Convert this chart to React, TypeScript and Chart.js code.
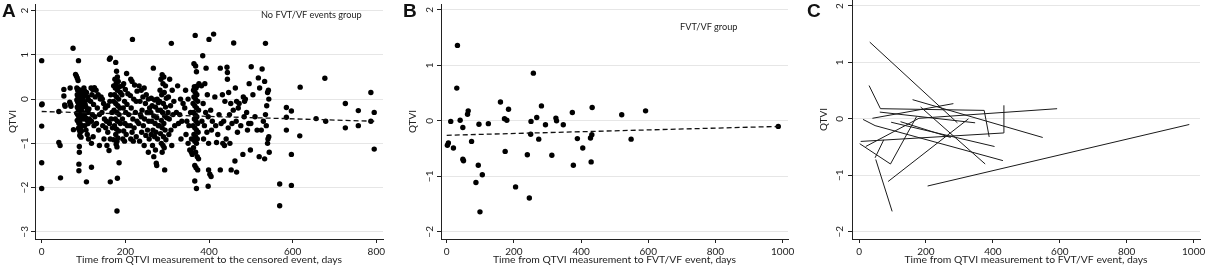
import React, { useEffect, useRef } from 'react';
import { Chart, registerables } from 'chart.js';

Chart.register(...registerables);

type Pt = [number, number];

// Panel A: no FVT/VF events group (days, QTVI)
const noEventPoints: Pt[] = [
  [0, 0.87], [0, -0.13], [1, -0.11], [0, -0.61], [0, -1.44], [0, -2.02],
  [41, -0.28], [41, -0.98], [44, -1.05], [45, -1.78],
  [53, 0.22], [53, 0.07], [55, -0.13], [56, -0.16],
  [68, 0.25], [67, -0.07], [69, -0.12], [70, -0.16],
  [75, 1.15], [76, -0.69],
  [81, 0.56], [83, 0.52], [85, 0.48], [87, 0.42], [88, 0.87],
  [84, 0.25], [86, 0.2], [88, 0.22], [90, 0.18], [92, 0.15], [95, 0.2], [98, 0.12], [85, 0.1], [87, 0.05], [89, 0.08],
  [91, 0.02], [93, 0.06], [96, 0.0], [99, 0.04], [84, -0.02], [86, -0.06], [88, -0.1], [90, -0.05], [92, -0.12], [94, -0.08],
  [97, -0.15], [100, -0.1], [85, -0.18], [87, -0.22], [89, -0.2], [91, -0.25], [93, -0.28], [95, -0.22], [98, -0.3], [84, -0.32],
  [86, -0.35], [88, -0.38], [90, -0.33], [92, -0.4], [94, -0.36], [96, -0.42], [99, -0.45], [85, -0.48], [87, -0.5], [89, -0.55],
  [91, -0.52], [93, -0.58], [95, -0.62], [97, -0.6], [88, -0.66], [90, -0.7], [92, -0.75], [95, -0.72], [91, -0.82], [94, -0.86],
  [90, -1.07], [90, -1.2], [89, -1.47], [89, -1.62],
  [101, 0.25], [103, 0.18], [105, 0.1], [107, 0.15], [110, 0.05], [112, -0.02], [102, -0.05], [104, -0.12], [106, -0.18], [109, -0.25],
  [111, -0.3], [113, -0.22], [102, -0.35], [105, -0.42], [108, -0.48], [111, -0.55], [114, -0.45], [103, -0.6], [106, -0.7], [109, -0.8],
  [112, -0.9], [107, -1.87],
  [118, 0.25], [122, 0.22], [126, 0.26], [130, 0.2], [120, 0.1], [128, 0.05], [135, 0.1], [117, -0.05], [124, -0.12], [133, -0.2],
  [121, -0.35], [127, -0.4], [138, -0.35], [119, -0.5], [131, -0.55], [125, -0.6], [136, -0.7], [119, -1.0], [138, -1.05], [119, -1.54],
  [123, -0.85], [140, 0.0],
  [142, 0.05], [145, 0.0], [148, -0.1], [152, -0.2], [144, -0.3], [150, -0.45], [155, -0.5], [146, -0.6], [153, -0.65], [158, -0.75],
  [149, -0.9], [156, -1.05], [158, -0.15],
  [164, 0.93], [162, 0.9], [165, 0.1], [163, -0.05], [168, -0.3], [166, -0.45], [162, -0.55], [169, -0.65], [164, -0.9], [161, -1.16], [164, -1.87],
  [177, 0.83], [179, 0.63], [181, 0.5], [175, 0.45], [183, 0.4], [178, 0.35], [172, 0.3], [186, 0.28], [176, 0.25], [181, 0.2],
  [188, 0.15], [174, 0.1], [179, 0.05], [184, 0.0], [172, -0.05], [177, -0.1], [182, -0.15], [187, -0.2], [173, -0.25], [180, -0.3],
  [185, -0.35], [176, -0.45], [181, -0.5], [188, -0.55], [174, -0.6], [179, -0.68], [184, -0.72], [177, -0.8], [182, -0.88], [180, -0.95],
  [178, -1.02], [180, -1.08], [185, -1.44], [181, -1.79], [180, -2.53], [172, -0.92],
  [203, 0.58], [196, 0.35], [193, 0.3], [200, 0.22], [206, 0.12], [192, 0.1], [198, -0.05], [204, -0.12], [195, -0.2], [201, -0.3],
  [208, -0.35], [193, -0.45], [199, -0.55], [205, -0.6], [196, -0.72], [202, -0.8], [194, -0.9], [198, -0.95],
  [217, 1.35], [213, 0.45], [216, 0.4], [222, 0.32], [228, 0.18], [212, 0.08], [220, 0.0], [226, -0.05], [214, -0.2], [224, -0.3],
  [218, -0.45], [228, -0.5], [212, -0.6], [221, -0.65], [216, -0.75], [226, -0.85], [213, -0.9], [219, -0.95],
  [233, 0.3], [238, 0.2], [245, 0.25], [250, 0.1], [242, 0.05], [255, 0.0], [235, -0.05], [248, -0.1], [258, -0.2], [240, -0.25],
  [252, -0.3], [236, -0.35], [246, -0.45], [256, -0.5], [232, -0.55], [243, -0.6], [253, -0.7], [239, -0.75], [249, -0.82], [257, -0.9],
  [234, -0.95], [245, -1.05], [255, -1.2], [238, -0.4],
  [267, 0.7], [262, 0.02], [270, -0.02], [276, 0.0], [264, -0.15], [272, -0.18], [278, -0.25], [261, -0.3], [268, -0.38], [275, -0.42],
  [263, -0.5], [271, -0.55], [279, -0.6], [266, -0.7], [273, -0.75], [262, -0.8], [270, -0.85], [277, -0.9], [265, -1.05], [272, -1.15],
  [268, -1.3], [274, -1.45], [275, -1.5], [279, -0.08],
  [288, 0.55], [292, 0.5], [285, 0.45], [290, 0.35], [296, 0.3], [283, 0.2], [293, 0.15], [287, 0.1], [298, 0.02], [282, -0.05],
  [291, -0.1], [296, -0.18], [284, -0.25], [289, -0.3], [294, -0.38], [299, -0.42], [286, -0.48], [292, -0.55], [281, -0.6], [288, -0.65],
  [295, -0.7], [284, -0.78], [291, -0.85], [297, -0.92], [286, -1.0], [290, -1.05], [293, -1.1], [288, -1.2], [294, -1.6],
  [310, 1.26], [306, 0.45], [312, 0.2], [303, 0.05], [316, -0.05], [308, -0.15], [302, -0.3], [314, -0.35], [305, -0.45], [318, -0.6],
  [309, -0.7], [304, -0.8], [311, -1.05],
  [325, 0.3], [332, 0.0], [338, -0.1], [322, -0.3], [330, -0.35], [335, -0.5], [327, -0.55], [333, -0.9],
  [344, 0.2], [350, 0.0], [342, -0.2], [356, -0.3], [347, -0.5], [352, -0.6], [345, -0.8], [358, -0.9], [350, -1.0], [354, -1.15],
  [358, -1.2], [360, -1.25],
  [367, 1.44], [364, 0.8], [368, 0.75], [370, 0.62], [376, 0.35], [372, 0.3], [365, 0.28], [369, 0.25], [363, 0.2], [367, 0.15],
  [371, 0.1], [364, 0.05], [368, 0.0], [373, -0.05], [362, -0.1], [366, -0.15], [370, -0.2], [375, -0.25], [363, -0.3], [367, -0.35],
  [371, -0.4], [365, -0.45], [369, -0.5], [373, -0.55], [362, -0.6], [366, -0.65], [370, -0.7], [374, -0.75], [364, -0.8], [368, -0.85],
  [372, -0.9], [366, -0.95], [370, -1.0], [363, -1.1], [368, -1.2], [372, -1.3], [375, -1.35], [366, -1.5], [369, -1.55], [373, -1.6],
  [366, -1.85], [370, -2.02],
  [385, 0.98], [393, 0.7], [390, 0.35], [382, 0.3], [396, 0.1], [386, -0.1], [392, -0.3], [398, -0.4], [383, -0.5], [389, -0.6],
  [395, -0.75], [387, -0.9], [399, -1.0], [399, -1.6], [402, -1.7], [405, -1.75], [398, -1.97],
  [400, 1.35], [411, 1.47], [414, 0.05], [404, -0.25], [408, -0.5], [416, -0.6], [406, -0.7], [418, -0.98],
  [427, 0.7], [432, 0.1], [438, -0.05], [424, -0.35], [435, -0.5], [429, -0.55], [421, -0.8], [433, -1.0], [437, -1.05], [427, -1.6],
  [443, 0.72], [444, 0.6], [444, 0.45], [447, 0.15], [452, -0.1], [458, -0.25], [449, -0.35], [455, -0.55], [446, -0.65], [441, -0.9],
  [450, -1.0], [453, -1.6],
  [459, 1.27], [463, 0.25], [466, -0.05], [472, -0.1], [470, -0.2], [465, -0.5], [476, -0.6], [468, -0.75], [462, -1.4], [466, -1.65],
  [482, 0.05], [487, 0.0], [485, -0.05], [490, -0.3], [484, -0.4], [495, -0.55], [492, -0.7], [481, -1.25],
  [501, 0.73], [496, 0.35], [505, 0.1], [510, -0.4], [500, -0.55], [515, -0.7], [499, -1.15],
  [535, 1.26], [527, 0.68], [518, 0.48], [533, 0.4], [521, 0.25], [540, 0.15], [542, 0.2], [543, 0.0], [538, -0.15], [535, -0.35],
  [530, -0.5], [537, -0.6], [525, -0.7], [543, -0.85], [541, -0.9], [540, -1.0], [544, -1.2], [520, -1.3], [533, -1.35],
  [618, 0.27], [677, 0.47], [787, 0.15], [726, -0.1], [757, -0.26], [795, -0.3], [585, -0.19], [597, -0.27], [585, -0.41], [656, -0.44],
  [679, -0.5], [787, -0.5], [726, -0.65], [757, -0.6], [585, -0.7], [617, -0.83], [795, -1.13], [597, -1.25], [569, -1.92], [597, -1.95],
  [569, -2.41],
];
const noEventTrend: Pt[] = [[0, -0.28], [795, -0.5]];

// Panels B and C: FVT/VF group, one array per patient (days, QTVI)
const eventPatients: Pt[][] = [
  [[32, 1.36], [294, -0.07]],
  [[30, 0.59], [64, 0.18], [374, 0.15], [389, -0.32]],
  [[62, 0.12], [347, -0.07]],
  [[40, 0.01], [282, 0.27]],
  [[12, -0.01], [48, -0.12], [430, -0.74]],
  [[5, -0.4], [432, -0.25], [433, 0.24]],
  [[2, -0.44], [94, -0.8], [172, 0.04]],
  [[20, -0.49], [179, 0.01], [592, 0.18]],
  [[48, -0.69], [74, -0.37]],
  [[50, -0.72], [99, -1.64]],
  [[87, -1.11], [327, 0.0]],
  [[160, 0.34], [549, -0.33]],
  [[184, 0.21], [377, -0.8]],
  [[96, -0.06], [405, -0.49]],
  [[124, -0.05], [274, -0.33]],
  [[205, -1.19], [987, -0.1]],
];
const eventSingles: Pt[] = [
  [106, -0.97], [174, -0.55], [240, -0.61], [246, -1.39], [250, -0.24], [251, -0.01],
  [258, 0.86], [268, 0.06], [313, -0.62], [325, 0.05], [428, -0.31], [521, 0.11],
];
const eventTrend: Pt[] = [[0, -0.26], [990, -0.1]];

const yTicksA = [-3, -2, -1, 0, 1, 2];
const xTicksA = [0, 200, 400, 600, 800];
const yTicksBC = [-2, -1, 0, 1, 2];
const xTicksBC = [0, 200, 400, 600, 800, 1000];

const xTitleA = 'Time from QTVI measurement to the censored event, days';
const xTitleBC = 'Time from QTVI measurement to FVT/VF event, days';

const FONT = 'Lato, "Open Sans", sans-serif';
const INK = '#222';

const fmt = (v: number) => (v < 0 ? '\u2212' + Math.abs(v) : String(v));
const toXY = (p: Pt[]) => p.map(([x, y]) => ({ x, y }));

interface PanelGeom {
  xMin: number; xMax: number; yMin: number; yMax: number;
  yWidth: number; xHeight: number; right: number;
  yTickPad: number; yTitlePad: number;
  xTicks: number[]; yTicks: number[]; xTitle: string;
}

function makeOptions(g: PanelGeom): any {
  return {
    animation: false,
    responsive: false,
    events: [],
    layout: { padding: { left: 0, top: 0, right: g.right, bottom: 0 } },
    plugins: { legend: { display: false }, tooltip: { enabled: false } },
    scales: {
      x: {
        type: 'linear', position: 'bottom', min: g.xMin, max: g.xMax,
        afterBuildTicks: (s: any) => { s.ticks = g.xTicks.map((v) => ({ value: v })); },
        afterFit: (s: any) => { s.height = g.xHeight; s.paddingLeft = 0; s.paddingRight = 0; },
        grid: { drawOnChartArea: false, tickLength: 4, tickColor: INK, tickWidth: 1 },
        border: { display: true, color: INK, width: 1 },
        ticks: { autoSkip: false, maxRotation: 0, minRotation: 0, padding: 3, color: INK, font: { family: FONT, size: 10 }, callback: (v: any) => fmt(Number(v)) },
        title: { display: true, text: g.xTitle, color: INK, font: { family: FONT, size: 10.4 }, padding: { top: 0, bottom: 0 } },
      },
      y: {
        type: 'linear', position: 'left', min: g.yMin, max: g.yMax,
        afterBuildTicks: (s: any) => { s.ticks = g.yTicks.map((v) => ({ value: v })); },
        afterFit: (s: any) => { s.width = g.yWidth; s.paddingTop = 0; s.paddingBottom = 0; },
        grid: { color: '#e6e6e6', lineWidth: 1, tickLength: 4, tickColor: INK, tickWidth: 1 },
        border: { display: true, color: INK, width: 1 },
        ticks: { minRotation: 90, maxRotation: 90, crossAlign: 'center', padding: g.yTickPad, color: INK, font: { family: FONT, size: 10 }, callback: (v: any) => fmt(Number(v)) },
        title: { display: true, text: 'QTVI', color: INK, font: { family: FONT, size: 10 }, padding: { top: g.yTitlePad, bottom: 0 } },
      },
    },
  };
}

const dotStyle = { pointRadius: 2.7, pointBackgroundColor: '#000', pointBorderWidth: 0, borderWidth: 0, showLine: false };
const trendStyle = { showLine: true, pointRadius: 0, borderColor: '#111', borderWidth: 1.3, borderDash: [5, 3] };

function Panel({ left, width, geom, datasets }: { left: number; width: number; geom: PanelGeom; datasets: any[] }) {
  const ref = useRef<HTMLCanvasElement | null>(null);
  useEffect(() => {
    if (!ref.current) return;
    const chart = new Chart(ref.current, { type: 'scatter', data: { datasets }, options: makeOptions(geom) });
    return () => chart.destroy();
  }, []);
  return <canvas ref={ref} width={width} height={266} style={{ position: 'absolute', left, top: 0, width, height: 266 }} />;
}

const letterStyle: React.CSSProperties = { position: 'absolute', top: 0, fontFamily: '"Liberation Sans", Arial, sans-serif', fontWeight: 700, fontSize: 19, lineHeight: '22px', color: '#111' };
const noteStyle: React.CSSProperties = { position: 'absolute', fontFamily: FONT, fontSize: 9.2, lineHeight: '12px', color: INK, whiteSpace: 'nowrap' };

export default function App() {
  const geomA: PanelGeom = { xMin: -16, xMax: 816, yMin: -3.162, yMax: 2.15, yWidth: 35, xHeight: 27, right: 17, yTickPad: 0.5, yTitlePad: 7, xTicks: xTicksA, yTicks: yTicksA, xTitle: xTitleA };
  const geomB: PanelGeom = { xMin: -17, xMax: 1016, yMin: -2.129, yMax: 2.106, yWidth: 41, xHeight: 27, right: 17, yTickPad: 1.5, yTitlePad: 7, xTicks: xTicksBC, yTicks: yTicksBC, xTitle: xTitleBC };
  const geomC: PanelGeom = { xMin: -21, xMax: 1019, yMin: -2.129, yMax: 2.106, yWidth: 47, xHeight: 27, right: 5, yTickPad: 2.5, yTitlePad: 13, xTicks: xTicksBC, yTicks: yTicksBC, xTitle: xTitleBC };

  const allEventPoints: Pt[] = [...eventPatients.flat(), ...eventSingles];

  const dsA = [
    { data: toXY(noEventTrend), ...trendStyle },
    { data: toXY(noEventPoints), ...dotStyle },
  ];
  const dsB = [
    { data: toXY(eventTrend), ...trendStyle },
    { data: toXY(allEventPoints), ...dotStyle },
  ];
  const dsC = eventPatients.map((p) => ({ data: toXY(p), showLine: true, pointRadius: 0, borderColor: '#1a1a1a', borderWidth: 1, tension: 0 }));

  return (
    <div style={{ position: 'absolute', left: 0, top: 0, width: 1205, height: 266, background: '#fff', overflow: 'hidden' }}>
      <Panel left={0} width={400} geom={geomA} datasets={dsA} />
      <Panel left={400} width={405} geom={geomB} datasets={dsB} />
      <Panel left={805} width={400} geom={geomC} datasets={dsC} />
      <div style={{ ...letterStyle, left: 2 }}>A</div>
      <div style={{ ...letterStyle, left: 403 }}>B</div>
      <div style={{ ...letterStyle, left: 807 }}>C</div>
      <div style={{ ...noteStyle, left: 261, top: 9 }}>No FVT/VF events group</div>
      <div style={{ ...noteStyle, left: 680, top: 21 }}>FVT/VF group</div>
    </div>
  );
}
